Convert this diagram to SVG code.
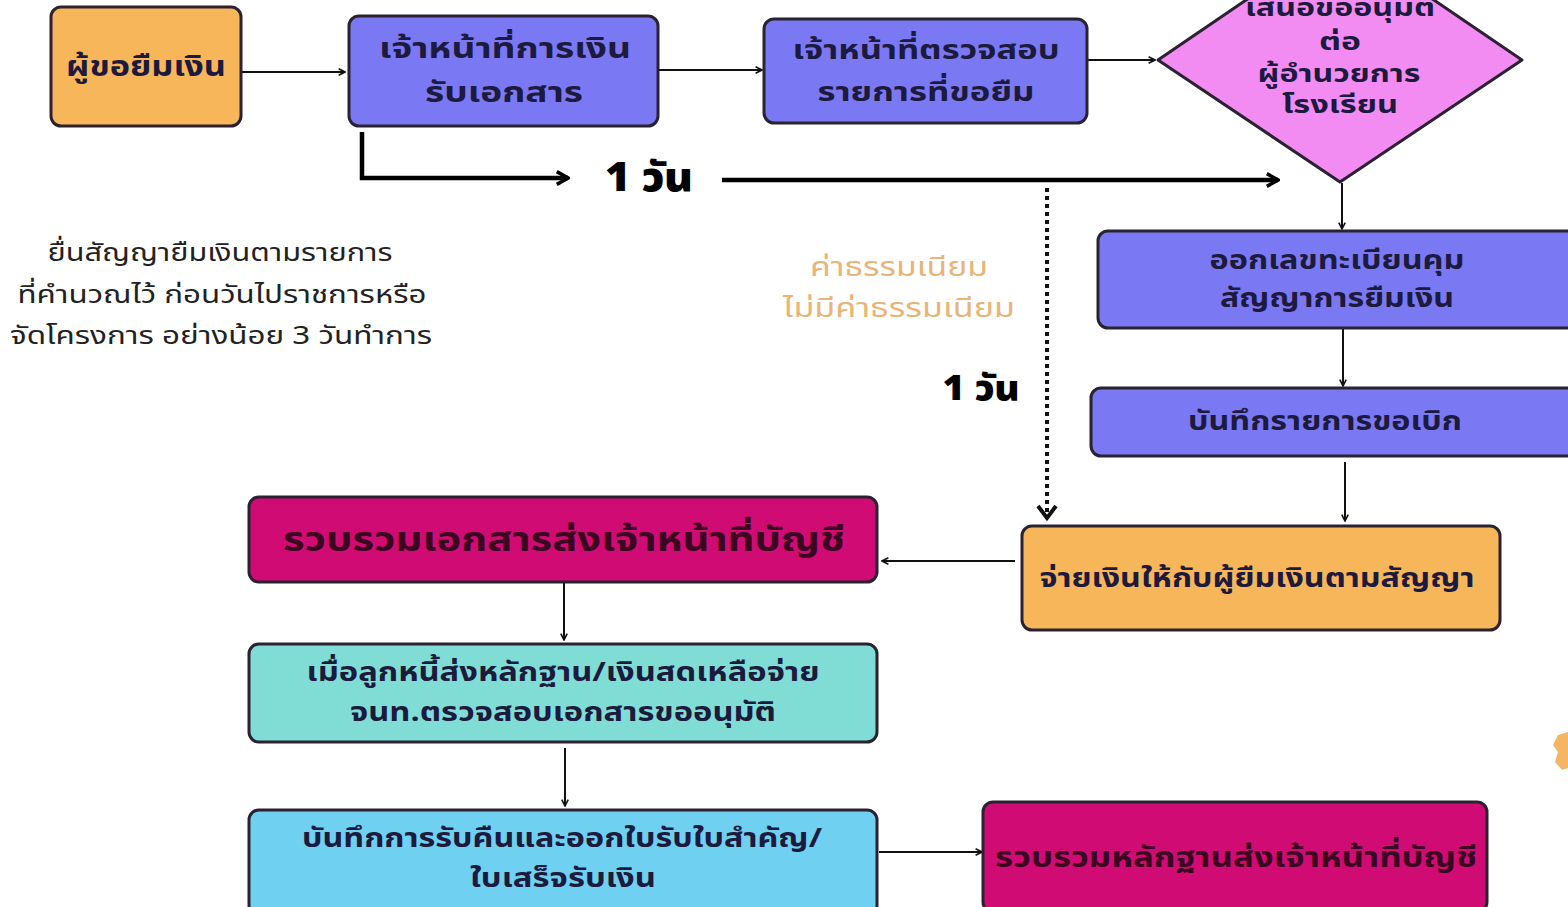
<svg xmlns="http://www.w3.org/2000/svg" width="1568" height="907" viewBox="0 0 1568 907">
<defs>
<style>
.t{font-family:"Noto Sans Thai","Noto Sans","DejaVu Sans",sans-serif;font-weight:bold;fill:#1c1a3d;text-anchor:middle}
.box{stroke:#2a2230;stroke-width:3}
.blue{fill:#7a78f3}
.orange{fill:#f8b65b}
.mag{fill:#d00b74}
.ln{stroke:#111;stroke-width:2;fill:none}
.thick{stroke:#000;stroke-width:4.5;fill:none}
.plain{font-family:"Noto Sans Thai","Noto Sans","DejaVu Sans",sans-serif;fill:#222;text-anchor:middle}
.big{font-family:"Noto Sans Thai","DejaVu Sans",sans-serif;font-weight:900;fill:#000;text-anchor:middle}
</style>
<marker id="a" viewBox="0 0 10 10" refX="9" refY="5" markerWidth="8" markerHeight="8" markerUnits="userSpaceOnUse" orient="auto"><path d="M1,1 L9,5 L1,9" fill="none" stroke="#111" stroke-width="2"/></marker>
<marker id="ab" viewBox="0 0 10 10" refX="9" refY="5" markerWidth="16" markerHeight="16" markerUnits="userSpaceOnUse" orient="auto"><path d="M2,1 L9,5 L2,9" fill="none" stroke="#000" stroke-width="2.2"/></marker>
</defs>
<rect width="1568" height="907" fill="#ffffff"/>

<g id="connectors">
<line class="ln" x1="242" y1="72" x2="345" y2="72" marker-end="url(#a)"/>
<line class="ln" x1="659" y1="70" x2="762" y2="70" marker-end="url(#a)"/>
<line class="ln" x1="1088" y1="60" x2="1155" y2="60" marker-end="url(#a)"/>
<polyline class="thick" points="362,132 362,178 568,178" marker-end="url(#ab)"/>
<line class="thick" x1="722" y1="180" x2="1278" y2="180" marker-end="url(#ab)"/>
<line x1="1047" y1="188" x2="1047" y2="512" stroke="#111" stroke-width="4" stroke-dasharray="4,4"/>
<path d="M1038,506 L1047,518 L1056,506" fill="none" stroke="#111" stroke-width="4"/>
<line class="ln" x1="1342" y1="183" x2="1342" y2="229" marker-end="url(#a)"/>
<line class="ln" x1="1343" y1="329" x2="1343" y2="386" marker-end="url(#a)"/>
<line class="ln" x1="1345" y1="462" x2="1345" y2="521" marker-end="url(#a)"/>
<line class="ln" x1="1015" y1="561" x2="882" y2="561" marker-end="url(#a)"/>
<line class="ln" x1="564" y1="583" x2="564" y2="640" marker-end="url(#a)"/>
<line class="ln" x1="565" y1="748" x2="565" y2="806" marker-end="url(#a)"/>
<line class="ln" x1="879" y1="852" x2="982" y2="852" marker-end="url(#a)"/>
</g>

<g id="n1"><rect class="box orange" x="51" y="7" width="190" height="119" rx="10"/>
<text class="t" x="146" y="76" font-size="29" textLength="160" lengthAdjust="spacingAndGlyphs">ผู้ขอยืมเงิน</text></g>

<g id="n2"><rect class="box blue" x="349" y="16" width="309" height="110" rx="10"/>
<text class="t" x="505" y="58" font-size="28" textLength="252" lengthAdjust="spacingAndGlyphs">เจ้าหน้าที่การเงิน</text>
<text class="t" x="504" y="102" font-size="28" textLength="158" lengthAdjust="spacingAndGlyphs">รับเอกสาร</text></g>

<g id="n3"><rect class="box blue" x="764" y="19" width="323" height="104" rx="10"/>
<text class="t" x="926" y="59" font-size="27" textLength="267" lengthAdjust="spacingAndGlyphs">เจ้าหน้าที่ตรวจสอบ</text>
<text class="t" x="926" y="101" font-size="27" textLength="217" lengthAdjust="spacingAndGlyphs">รายการที่ขอยืม</text></g>

<g id="n4"><path class="box" d="M1158,60 L1340,-64 L1522,60 L1340,182 Z" fill="#f38cf2" stroke-linejoin="round"/>
<text class="t" x="1340" y="16" font-size="24" textLength="190" lengthAdjust="spacingAndGlyphs">เสนอขออนุมัติ</text>
<text class="t" x="1340" y="50" font-size="24" textLength="42" lengthAdjust="spacingAndGlyphs">ต่อ</text>
<text class="t" x="1339" y="82" font-size="24" textLength="163" lengthAdjust="spacingAndGlyphs">ผู้อำนวยการ</text>
<text class="t" x="1340" y="113" font-size="24" textLength="116" lengthAdjust="spacingAndGlyphs">โรงเรียน</text></g>

<g id="n5"><rect class="box blue" x="1098" y="231" width="480" height="97" rx="10"/>
<text class="t" x="1337" y="269" font-size="26" textLength="255" lengthAdjust="spacingAndGlyphs">ออกเลขทะเบียนคุม</text>
<text class="t" x="1337" y="307" font-size="26" textLength="234" lengthAdjust="spacingAndGlyphs">สัญญาการยืมเงิน</text></g>

<g id="n6"><rect class="box blue" x="1091" y="388" width="487" height="68" rx="10"/>
<text class="t" x="1325" y="430" font-size="26" textLength="274" lengthAdjust="spacingAndGlyphs">บันทึกรายการขอเบิก</text></g>

<g id="n7"><rect class="box orange" x="1022" y="526" width="478" height="104" rx="10"/>
<text class="t" x="1257" y="587" font-size="26" textLength="435" lengthAdjust="spacingAndGlyphs">จ่ายเงินให้กับผู้ยืมเงินตามสัญญา</text></g>

<g id="n8"><rect class="box mag" x="249" y="497" width="628" height="85" rx="10"/>
<text class="t" x="564" y="551" font-size="33" textLength="562" lengthAdjust="spacingAndGlyphs" style="fill:#3a0620">รวบรวมเอกสารส่งเจ้าหน้าที่บัญชี</text></g>

<g id="n9"><rect class="box" fill="#80ddd6" x="249" y="644" width="628" height="98" rx="10"/>
<text class="t" x="563" y="681" font-size="26" textLength="513" lengthAdjust="spacingAndGlyphs">เมื่อลูกหนี้ส่งหลักฐาน/เงินสดเหลือจ่าย</text>
<text class="t" x="563" y="721" font-size="26" textLength="426" lengthAdjust="spacingAndGlyphs">จนท.ตรวจสอบเอกสารขออนุมัติ</text></g>

<g id="n10"><rect class="box" fill="#70d0f2" x="249" y="810" width="628" height="105" rx="10"/>
<text class="t" x="562" y="847" font-size="26" textLength="520" lengthAdjust="spacingAndGlyphs">บันทึกการรับคืนและออกใบรับใบสำคัญ/</text>
<text class="t" x="563" y="887" font-size="26" textLength="186" lengthAdjust="spacingAndGlyphs">ใบเสร็จรับเงิน</text></g>

<g id="n11"><rect class="box mag" x="983" y="802" width="504" height="110" rx="10"/>
<text class="t" x="1236" y="867" font-size="29" textLength="482" lengthAdjust="spacingAndGlyphs" style="fill:#3a0620">รวบรวมหลักฐานส่งเจ้าหน้าที่บัญชี</text></g>

<g id="labels">
<text class="big" x="649" y="191" font-size="40" textLength="88" lengthAdjust="spacingAndGlyphs">1 วัน</text>
<text class="big" x="981" y="400" font-size="36" textLength="77" lengthAdjust="spacingAndGlyphs">1 วัน</text>
<text class="plain" x="899" y="276" font-size="27" textLength="178" lengthAdjust="spacingAndGlyphs" style="fill:#e8b477">ค่าธรรมเนียม</text>
<text class="plain" x="899" y="317" font-size="27" textLength="232" lengthAdjust="spacingAndGlyphs" style="fill:#e8b477">ไม่มีค่าธรรมเนียม</text>
<text class="plain" x="220" y="261" font-size="25" textLength="345" lengthAdjust="spacingAndGlyphs">ยื่นสัญญายืมเงินตามรายการ</text>
<text class="plain" x="222" y="303" font-size="25" textLength="409" lengthAdjust="spacingAndGlyphs">ที่คำนวณไว้ ก่อนวันไปราชการหรือ</text>
<text class="plain" x="221" y="344" font-size="25" textLength="422" lengthAdjust="spacingAndGlyphs">จัดโครงการ อย่างน้อย 3 วันทำการ</text>
</g>
<path d="M1568,732 L1558,735 L1553,745 L1558,752 L1555,762 L1562,770 L1568,768 Z" fill="#f5b663"/>
</svg>
